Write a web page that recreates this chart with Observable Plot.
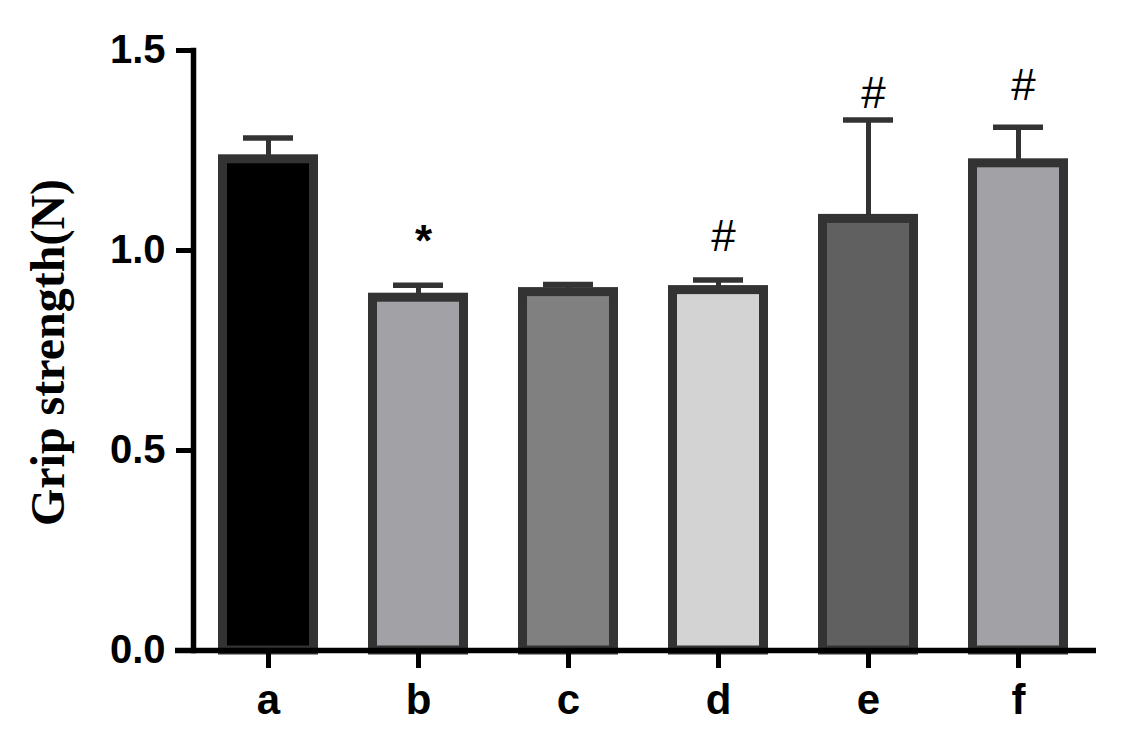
<!DOCTYPE html>
<html>
<head>
<meta charset="utf-8">
<script src="https://cdn.jsdelivr.net/npm/d3@7"></script>
<script src="https://cdn.jsdelivr.net/npm/@observablehq/plot@0.6"></script>
<style>
  body { margin: 0; background: #fff; }
</style>
</head>
<body>
<div id="chart"></div>
<script>
const groups = ['a', 'b', 'c', 'd', 'e', 'f']
const means = [1.228, 0.882, 0.896, 0.901, 1.079, 1.218]
const errTops = [1.281, 0.913, 0.915, 0.926, 1.326, 1.308]
const barColors = ['#000000', '#a2a1a6', '#808080', '#d3d3d3', '#606060', '#a2a1a6']
const signs = ['', '*', '', '#', '#', '#']
const signY = [null, 0.987, null, 1.0, 1.356, 1.376]
const yTicks = [0, 0.5, 1.0, 1.5]

const data = groups.map((g, i) => ({group: g, mean: means[i], top: errTops[i], sign: signs[i], signY: signY[i]}))

const chart = Plot.plot({
  width: 1138,
  height: 750,
  marginLeft: 193,
  marginRight: 45,
  marginTop: 50,
  marginBottom: 100,
  style: {fontFamily: 'Liberation Sans, Arial, sans-serif', background: 'white', color: 'black'},
  x: {domain: groups, paddingInner: 1 / 3, paddingOuter: 1 / 6},
  y: {domain: [0, 1.5]},
  color: {domain: groups, range: barColors},
  marks: [
    // error bars (upper only)
    Plot.ruleX(data, {x: 'group', y1: 'mean', y2: 'top', stroke: '#333', strokeWidth: 5}),
    Plot.tickY(data, {x: 'group', y: 'top', stroke: '#333', strokeWidth: 5.5, insetLeft: 25, insetRight: 25}),
    Plot.barY(data, {x: 'group', y: 'mean', fill: 'group', stroke: '#333', strokeWidth: 9, insetLeft: 4.5, insetRight: 4.5}),
    Plot.text(data.filter(d => d.sign === '#'), {x: 'group', y: 'signY', text: 'sign', lineAnchor: 'bottom', dx: 5, fontSize: 44, fill: 'black'}),
    Plot.text(data.filter(d => d.sign === '*'), {x: 'group', y: 'signY', text: 'sign', lineAnchor: 'bottom', dx: 5, fontSize: 44, fontWeight: 'bold', fill: 'black'}),
    Plot.axisY({ticks: yTicks, tickFormat: d3.format('.1f'), tickSize: 17, tickPadding: 11, fontSize: 40, fontWeight: 'bold', strokeWidth: 5, label: null}),
    Plot.axisX({tickSize: 18, tickPadding: 16, fontSize: 42, fontWeight: 'bold', strokeWidth: 5, label: null}),
    Plot.frame({anchor: 'left', strokeWidth: 5.5}),
    Plot.ruleY([0], {strokeWidth: 5.5, insetLeft: -18, insetRight: -3}),
    Plot.text(['Grip strength(N)'], {frameAnchor: 'left', textAnchor: 'middle', dx: -145, dy: 2, rotate: -90, fontSize: 48, fontWeight: 'bold', fontFamily: 'Liberation Serif, Times New Roman, serif', fill: 'black'}),
  ],
})

d3.select('#chart').append(() => chart)
</script>
</body>
</html>
